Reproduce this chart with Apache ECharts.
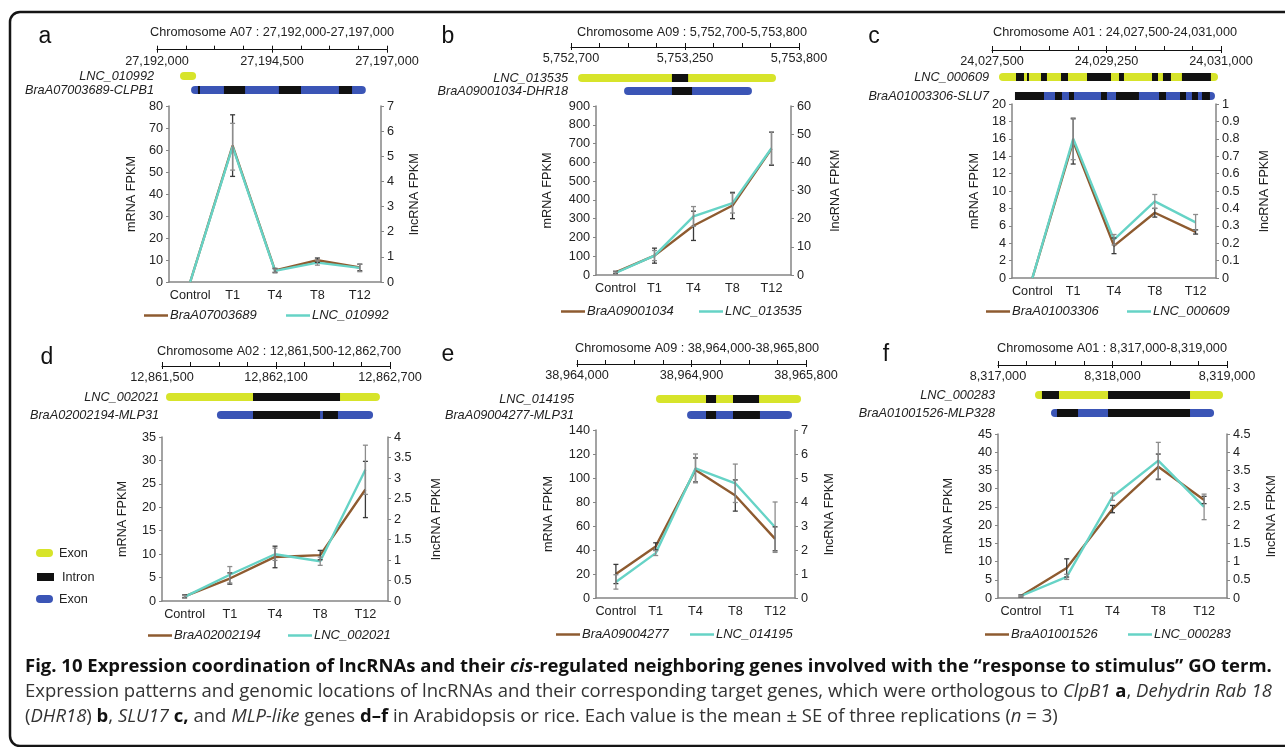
<!DOCTYPE html>
<html>
<head>
<meta charset="utf-8">
<script src="https://cdn.jsdelivr.net/npm/echarts@6/dist/echarts.min.js"></script>
<style>
  html, body { margin: 0; padding: 0; background: #fff; }
  #chart { width: 1285px; height: 747px; }
</style>
</head>
<body>
<div id="chart"></div>
<script>
const categories = ['Control', 'T1', 'T4', 'T8', 'T12'];

// mean FPKM and SE
const mrnaA = [0, 62, 5.3, 9.9, 6.6];
const mrnaErrA = [0, 14, 0.9, 1, 1.5];
const lncA = [0, 5.38, 0.44, 0.77, 0.56];
const lncErrA = [0, 0.93, 0.08, 0.1, 0.15];

const mrnaB = [14, 103, 262, 370, 672];
const mrnaErrB = [6, 40, 78, 70, 88];
const lncB = [0.7, 6.9, 20.8, 25.5, 45];
const lncErrB = [0.4, 1.8, 3.5, 3.5, 5.8];

const mrnaC = [0, 15.7, 3.7, 7.5, 5.3];
const mrnaErrC = [0, 2.6, 0.9, 0.5, 0.25];
const lncC = [0, 0.8, 0.22, 0.44, 0.32];
const lncErrC = [0, 0.12, 0.03, 0.04, 0.045];

const mrnaD = [1.0, 4.8, 9.4, 9.8, 23.8];
const mrnaErrD = [0.3, 1.2, 2.3, 1, 6];
const lncD = [0.1, 0.64, 1.14, 0.97, 3.2];
const lncErrD = [0.03, 0.2, 0.15, 0.1, 0.6];

const mrnaE = [20, 43, 106.7, 85.4, 49.3];
const mrnaErrE = [8, 3, 10, 13, 10];
const lncE = [0.67, 1.87, 5.4, 4.78, 2.95];
const lncErrE = [0.3, 0.1, 0.6, 0.8, 1.05];

const mrnaF = [0.55, 8.25, 24.4, 36, 26.9];
const mrnaErrF = [0.3, 2.5, 1, 3.5, 1];
const lncF = [0.055, 0.58, 2.78, 3.77, 2.5];
const lncErrF = [0.02, 0.07, 0.1, 0.5, 0.35];

// axis ranges / tick steps
const mrnaAxisMax = [80, 900, 20, 35, 140, 45];
const mrnaAxisStep = [10, 100, 2, 5, 20, 5];
const lncAxisMax = [7, 60, 1, 4, 7, 4.5];
const lncAxisStep = [1, 10, 0.1, 0.5, 1, 0.5];

// genomic regions
const chromosomes = ['A07', 'A09', 'A01', 'A02', 'A09', 'A01'];
const regionStart = [27192000, 5752700, 24027500, 12861500, 38964000, 8317000];
const regionEnd = [27197000, 5753800, 24031000, 12862700, 38965800, 8319000];
const lncNames = ['LNC_010992', 'LNC_013535', 'LNC_000609', 'LNC_002021', 'LNC_014195', 'LNC_000283'];
const geneIds = ['BraA07003689', 'BraA09001034', 'BraA01003306', 'BraA02002194', 'BraA09004277', 'BraA01001526'];
const geneSymbols = ['CLPB1', 'DHR18', 'SLU7', 'MLP31', 'MLP31', 'MLP328'];

// transcript spans and intron blocks
const lncSpans = [
  [27192500, 27192850], [5752734, 5753689], [24027607, 24030954],
  [12861521, 12862647], [38964621, 38965761], [8317323, 8318965]
];
const lncIntrons = [
  [],
  [[5753187, 5753265]],
  [[24027867, 24027989], [24028035, 24028065], [24028249, 24028340], [24028555, 24028662],
   [24028952, 24029319], [24029441, 24029517], [24029945, 24030037], [24030113, 24030235],
   [24030403, 24030846]],
  [[12861979, 12862437]],
  [[38965014, 38965093], [38965226, 38965431]],
  [[8317384, 8317533], [8317961, 8318677]]
];
const geneSpans = [
  [27192740, 27196540], [5752956, 5753573], [24027851, 24030908],
  [12861789, 12862611], [38964865, 38965690], [8317463, 8318887]
];
const geneIntrons = [
  [[27192890, 27192935], [27193455, 27193915], [27194650, 27195130], [27195955, 27196240]],
  [[5753187, 5753284]],
  [[24027851, 24028295], [24028463, 24028570], [24028677, 24028753], [24029166, 24029257],
   [24029395, 24029746], [24030052, 24030159], [24030373, 24030465], [24030556, 24030648],
   [24030709, 24030831]],
  [[12861979, 12862332], [12862347, 12862426]],
  [[38965014, 38965093], [38965226, 38965438]],
  [[8317515, 8317699], [8317961, 8318677]]
];

const mrnaSeries = [mrnaA, mrnaB, mrnaC, mrnaD, mrnaE, mrnaF];
const mrnaErrs = [mrnaErrA, mrnaErrB, mrnaErrC, mrnaErrD, mrnaErrE, mrnaErrF];
const lncSeries = [lncA, lncB, lncC, lncD, lncE, lncF];
const lncErrs = [lncErrA, lncErrB, lncErrC, lncErrD, lncErrE, lncErrF];

// page layout (pixels)
const layout = [
  { tag: 'a', tagPos: [45, 37], titlePos: [272, 32], ruler: [157, 230, 48.7], track: [69, 28], grid: [169, 106, 212, 176], nameGap: [31, 27], legend: [[144, 317], [286, 317]] },
  { tag: 'b', tagPos: [448, 37], titlePos: [692, 32], ruler: [571, 228, 46], track: [71.5, 26], grid: [596, 106, 195, 169], nameGap: [42, 38], legend: [[561, 313], [699, 313]] },
  { tag: 'c', tagPos: [874, 37], titlePos: [1115, 32], ruler: [992, 229, 49], track: [67.5, 38], grid: [1012, 104, 204, 174], nameGap: [31, 42], legend: [[986, 313], [1127, 313]] },
  { tag: 'd', tagPos: [47, 358], titlePos: [279, 351], ruler: [162, 228, 365], track: [388, 36], grid: [162, 437, 226, 164], nameGap: [33, 42], legend: [[148, 637], [288, 637]] },
  { tag: 'e', tagPos: [448, 355], titlePos: [697, 348], ruler: [577, 229, 363], track: [391, 32], grid: [596, 430, 199, 168], nameGap: [41, 28], legend: [[556, 636], [690, 636]] },
  { tag: 'f', tagPos: [886, 355], titlePos: [1112, 348], ruler: [998, 229, 364], track: [386, 36], grid: [998, 434, 229, 164], nameGap: [43, 38], legend: [[985, 636], [1128, 636]] }
];

const FONT = 'Liberation Sans, Arial, sans-serif';
const BROWN = '#8e5b30';
const TEAL = '#66d3c6';
const YELLOW = '#d7e42a';
const BLUE = '#3b55b6';
const INTRON = '#111';
const AXIS = '#858585';
const TXT = '#222';

function commas(n) {
  return String(Math.round(n)).replace(/\B(?=(\d{3})+(?!\d))/g, ',');
}

function errorBars(color) {
  return function (params, api) {
    const lo = api.coord([api.value(0), api.value(1)]);
    const hi = api.coord([api.value(0), api.value(2)]);
    if (Math.abs(lo[1] - hi[1]) < 0.5) return null;
    const x = lo[0], w = 2.5;
    const st = { stroke: color, lineWidth: 1.3 };
    return {
      type: 'group',
      children: [
        { type: 'line', shape: { x1: x, y1: lo[1], x2: x, y2: hi[1] }, style: st },
        { type: 'line', shape: { x1: x - w, y1: lo[1], x2: x + w, y2: lo[1] }, style: st },
        { type: 'line', shape: { x1: x - w, y1: hi[1], x2: x + w, y2: hi[1] }, style: st }
      ]
    };
  };
}

function renderTrack(params, api) {
  const row = api.value(2);
  const s = api.coord([api.value(0), row]);
  const e = api.coord([api.value(1), row]);
  const h = 8;
  const intron = api.value(3) === 1;
  return {
    type: 'rect',
    shape: { x: s[0], y: s[1] - h / 2, width: e[0] - s[0], height: h, r: intron ? 0 : h / 2 },
    style: { fill: intron ? INTRON : (row === 0 ? YELLOW : BLUE) }
  };
}

const option = {
  animation: false,
  backgroundColor: '#fff',
  textStyle: { fontFamily: FONT },
  grid: [], xAxis: [], yAxis: [], series: [], legend: [], graphic: []
};

layout.forEach((L, k) => {
  // ---- expression chart ----
  const g = option.grid.length;
  option.grid.push({ left: L.grid[0], top: L.grid[1], width: L.grid[2], height: L.grid[3], outerBoundsMode: 'none' });
  const xi = option.xAxis.length;
  option.xAxis.push({
    type: 'category', gridIndex: g, data: categories, boundaryGap: true,
    axisLine: { lineStyle: { color: AXIS, width: 1.5 } },
    axisTick: { show: false },
    axisLabel: { interval: 0, hideOverlap: false, color: TXT, fontSize: 12.7, margin: 7, fontFamily: FONT }
  });
  const yl = option.yAxis.length;
  const yAxisBase = {
    type: 'value', gridIndex: g, min: 0, nameLocation: 'middle',
    nameTextStyle: { color: TXT, fontSize: 12.7, fontFamily: FONT },
    axisLine: { show: true, lineStyle: { color: AXIS, width: 1.5 } },
    axisTick: { show: true, length: 3, lineStyle: { color: AXIS } },
    axisLabel: { color: TXT, fontSize: 12.7, margin: 6, fontFamily: FONT },
    splitLine: { show: false }
  };
  option.yAxis.push(Object.assign({}, yAxisBase, {
    position: 'left', max: mrnaAxisMax[k], interval: mrnaAxisStep[k],
    name: 'mRNA FPKM', nameGap: L.nameGap[0]
  }));
  option.yAxis.push(Object.assign({}, yAxisBase, {
    position: 'right', max: lncAxisMax[k], interval: lncAxisStep[k],
    name: 'lncRNA FPKM', nameGap: L.nameGap[1]
  }));

  option.series.push({
    name: geneIds[k], type: 'line', xAxisIndex: xi, yAxisIndex: yl,
    data: mrnaSeries[k], showSymbol: false, z: 3,
    itemStyle: { color: BROWN }, lineStyle: { color: BROWN, width: 2.4 }
  });
  option.series.push({
    name: lncNames[k], type: 'line', xAxisIndex: xi, yAxisIndex: yl + 1,
    data: lncSeries[k], showSymbol: false, z: 4,
    itemStyle: { color: TEAL }, lineStyle: { color: TEAL, width: 2.4 }
  });
  option.series.push({
    type: 'custom', xAxisIndex: xi, yAxisIndex: yl, z: 5, silent: true,
    renderItem: errorBars('#3a3a3a'), encode: { x: 0, y: [1, 2] },
    data: mrnaSeries[k].map((v, i) => [i, v - mrnaErrs[k][i], v + mrnaErrs[k][i]])
  });
  option.series.push({
    type: 'custom', xAxisIndex: xi, yAxisIndex: yl + 1, z: 5, silent: true,
    renderItem: errorBars('#8c8c8c'), encode: { x: 0, y: [1, 2] },
    data: lncSeries[k].map((v, i) => [i, v - lncErrs[k][i], v + lncErrs[k][i]])
  });

  [[geneIds[k], L.legend[0]], [lncNames[k], L.legend[1]]].forEach(([nm, pos]) => {
    option.legend.push({
      data: [nm], left: pos[0], top: pos[1] - 8, padding: 0, selectedMode: false,
      icon: 'rect', itemWidth: 24, itemHeight: 2.5,
      textStyle: { fontStyle: 'italic', fontSize: 13, color: TXT, fontFamily: FONT, padding: [0, 0, 0, -3] }
    });
  });

  // ---- chromosome ruler ----
  const range = regionEnd[k] - regionStart[k];
  const half = range / 2;
  const rg = option.grid.length;
  option.grid.push({ left: L.ruler[0], top: L.ruler[2], width: L.ruler[1], height: 1, outerBoundsMode: 'none' });
  option.xAxis.push({
    type: 'value', gridIndex: rg, position: 'top', min: 0, max: range, interval: range / 8,
    axisLine: { show: true, lineStyle: { color: '#111', width: 1.2 } },
    axisTick: { show: true, inside: false, length: 4, lineStyle: { color: '#111' } },
    axisLabel: {
      show: true, inside: true, margin: 6, color: TXT, fontSize: 12.7, fontFamily: FONT,
      formatter: v => Math.abs(v / half - Math.round(v / half)) < 1e-6 ? commas(regionStart[k] + v) : ''
    },
    splitLine: { show: false }
  });
  option.xAxis.push({
    type: 'value', gridIndex: rg, position: 'bottom', min: 0, max: range, interval: half,
    axisLine: { show: false },
    axisTick: { show: true, inside: false, length: 3, lineStyle: { color: '#111' } },
    axisLabel: { show: false }, splitLine: { show: false }
  });
  option.yAxis.push({ type: 'value', gridIndex: rg, min: 0, max: 1, show: false });

  // ---- gene structure tracks ----
  const tg = option.grid.length;
  option.grid.push({ left: L.ruler[0], top: L.track[0], width: L.ruler[1], height: L.track[1], outerBoundsMode: 'none' });
  const tx = option.xAxis.length;
  option.xAxis.push({ type: 'value', gridIndex: tg, min: 0, max: range, show: false });
  const ty = option.yAxis.length;
  option.yAxis.push({
    type: 'category', gridIndex: tg, inverse: true,
    data: [lncNames[k], geneIds[k] + '-' + geneSymbols[k]],
    axisLine: { show: false }, axisTick: { show: false },
    axisLabel: { interval: 0, hideOverlap: false, fontStyle: 'italic', fontSize: 12.7, color: TXT, margin: 3, fontFamily: FONT }
  });
  const s0 = regionStart[k];
  const blocks = [];
  blocks.push([lncSpans[k][0] - s0, lncSpans[k][1] - s0, 0, 0]);
  blocks.push([geneSpans[k][0] - s0, geneSpans[k][1] - s0, 1, 0]);
  lncIntrons[k].forEach(b => blocks.push([b[0] - s0, b[1] - s0, 0, 1]));
  geneIntrons[k].forEach(b => blocks.push([b[0] - s0, b[1] - s0, 1, 1]));
  option.series.push({
    type: 'custom', xAxisIndex: tx, yAxisIndex: ty, silent: true, clip: false,
    renderItem: renderTrack, encode: { x: [0, 1], y: 2 }, data: blocks
  });

  // ---- panel letter and chromosome title ----
  option.graphic.push({
    type: 'text', x: L.tagPos[0], y: L.tagPos[1],
    style: { text: L.tag, fontSize: 23, fontFamily: FONT, fill: '#111', align: 'center', verticalAlign: 'middle' }
  });
  option.graphic.push({
    type: 'text', x: L.titlePos[0], y: L.titlePos[1],
    style: {
      text: 'Chromosome ' + chromosomes[k] + ' : ' + commas(regionStart[k]) + '-' + commas(regionEnd[k]),
      fontSize: 12.7, fontFamily: FONT, fill: TXT, align: 'center', verticalAlign: 'middle'
    }
  });
});

// frame
option.graphic.push({
  type: 'rect', shape: { x: 10, y: 12, width: 1300, height: 734, r: 10 },
  style: { fill: 'none', stroke: '#151515', lineWidth: 2.5 }, z: -1
});

// structure key
option.graphic.push(
  { type: 'rect', shape: { x: 36, y: 549, width: 17, height: 8, r: 4 }, style: { fill: YELLOW } },
  { type: 'text', x: 59, y: 553, style: { text: 'Exon', fontSize: 12.7, fontFamily: FONT, fill: TXT, verticalAlign: 'middle' } },
  { type: 'rect', shape: { x: 37, y: 573, width: 17, height: 8 }, style: { fill: INTRON } },
  { type: 'text', x: 62, y: 577, style: { text: 'Intron', fontSize: 12.7, fontFamily: FONT, fill: TXT, verticalAlign: 'middle' } },
  { type: 'rect', shape: { x: 36, y: 595, width: 17, height: 8, r: 4 }, style: { fill: BLUE } },
  { type: 'text', x: 59, y: 599, style: { text: 'Exon', fontSize: 12.7, fontFamily: FONT, fill: TXT, verticalAlign: 'middle' } }
);

// caption
const CAP = 'Open Sans, Liberation Sans, sans-serif';
const CS = 18.5;
const capRich = {
  i: { fontStyle: 'italic', fontSize: CS, fontFamily: CAP, fill: '#333' },
  b: { fontWeight: 'bold', fontSize: CS, fontFamily: CAP, fill: '#111' },
  bi: { fontStyle: 'italic', fontWeight: 'bold', fontSize: CS, fontFamily: CAP, fill: '#111' }
};
option.graphic.push(
  {
    type: 'text', x: 25, y: 667,
    style: {
      text: 'Fig. 10 Expression coordination of lncRNAs and their {bi|cis}-regulated neighboring genes involved with the \u201cresponse to stimulus\u201d GO term.',
      fontSize: CS, fontWeight: 'bold', fontFamily: CAP, fill: '#111', verticalAlign: 'middle', rich: capRich
    }
  },
  {
    type: 'text', x: 25, y: 692,
    style: {
      text: 'Expression patterns and genomic locations of lncRNAs and their corresponding target genes, which were orthologous to {i|ClpB1} {b|a}, {i|Dehydrin Rab 18}',
      fontSize: CS, fontFamily: CAP, fill: '#333', verticalAlign: 'middle', rich: capRich
    }
  },
  {
    type: 'text', x: 25, y: 717,
    style: {
      text: '({i|DHR18}) {b|b}, {i|SLU17} {b|c,} and {i|MLP-like} genes {b|d\u2013f} in Arabidopsis or rice. Each value is the mean \u00b1 SE of three replications ({i|n} = 3)',
      fontSize: CS, fontFamily: CAP, fill: '#333', verticalAlign: 'middle', rich: capRich
    }
  }
);

const chart = echarts.init(document.getElementById('chart'));
chart.setOption(option);
window.addEventListener('resize', () => chart.resize());
</script>
</body>
</html>
